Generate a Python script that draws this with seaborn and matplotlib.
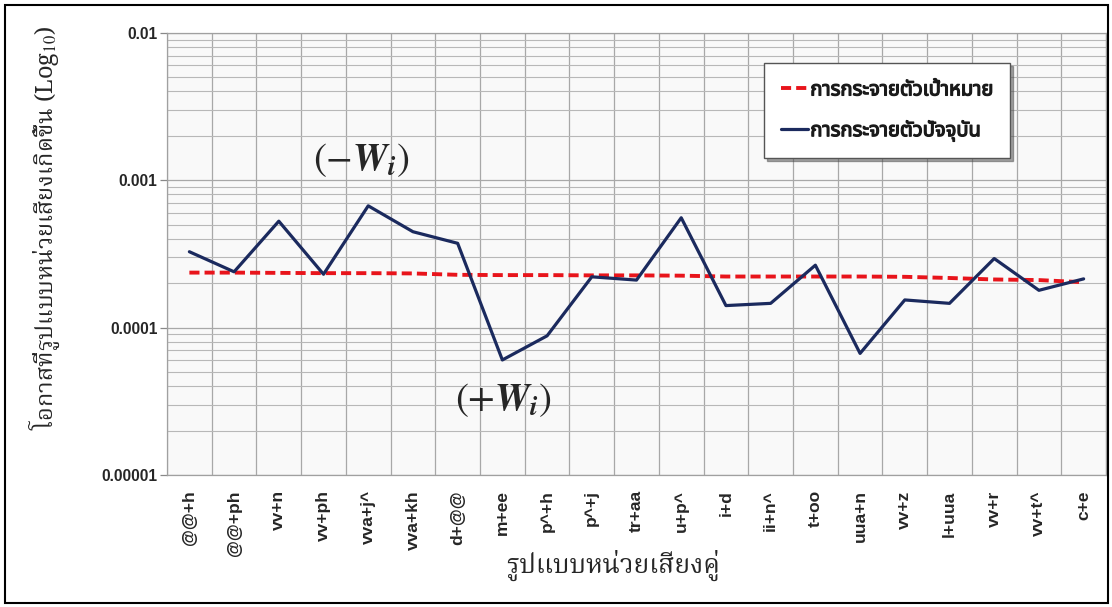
import numpy as np
import pandas as pd
import matplotlib
matplotlib.use("Agg")
import matplotlib.pyplot as plt
from matplotlib import font_manager as fm
from matplotlib.ft2font import FT2Font
from matplotlib.patches import Rectangle
from matplotlib.ticker import LogLocator, FixedLocator, NullFormatter
import matplotlib.patheffects as pe
import seaborn as sns

# ---------------- data ----------------
categories = ["@@+h", "@@+ph", "vv+n", "vv+ph", "vva+j^", "vva+kh", "d+@@", "m+ee",
              "p^+h", "p^+j", "tr+aa", "u+p^", "i+d", "ii+n^", "t+oo", "uua+n",
              "vv+z", "l+uua", "vv+r", "vv+t^", "c+e"]
target_dist = [2.36e-4, 2.36e-4, 2.35e-4, 2.34e-4, 2.34e-4, 2.33e-4, 2.28e-4, 2.27e-4,
               2.27e-4, 2.26e-4, 2.26e-4, 2.25e-4, 2.22e-4, 2.22e-4, 2.22e-4, 2.22e-4,
               2.21e-4, 2.17e-4, 2.12e-4, 2.10e-4, 2.03e-4]
current_dist = [3.27e-4, 2.39e-4, 5.27e-4, 2.30e-4, 6.70e-4, 4.47e-4, 3.73e-4, 6.03e-5,
                8.79e-5, 2.21e-4, 2.10e-4, 5.56e-4, 1.41e-4, 1.46e-4, 2.65e-4, 6.68e-5,
                1.54e-4, 1.46e-4, 2.94e-4, 1.79e-4, 2.14e-4]
series_names = ["การกระจายตัวเป้าหมาย", "การกระจายตัวปัจจุบัน"]
ytick_values = [1e-5, 1e-4, 1e-3, 1e-2]
ytick_labels = ["0.00001", "0.0001", "0.001", "0.01"]
xlabel_text = "รูปแบบหน่วยเสียงคู่"
ylabel_text = "โอกาสที่รูปแบบหน่วยเสียงเกิดขึ้น (Log$_{10}$)"
annot_minus = r"$(-\mathbfit{W}_{\mathbfit{i}})$"
annot_plus = r"$(+\mathbfit{W}_{\mathbfit{i}})$"

# ---------------- fonts ----------------
sns.set_theme(style="white")
thai_fonts = {}
for f in fm.fontManager.ttflist:
    try:
        cm = FT2Font(f.fname).get_charmap()
    except Exception:
        continue
    if 0x0E01 in cm:
        thai_fonts.setdefault(f.name, []).append(f.weight)

def pick(prefs):
    for p in prefs:
        if p in thai_fonts:
            return p
    return next(iter(thai_fonts), "DejaVu Sans")

serif_thai = pick(["Noto Serif Thai", "Norasi", "Laksaman", "TH Sarabun New", "Tlwg Typo",
                   "Noto Sans Thai Looped", "Noto Sans Thai", "Garuda", "Loma"])
sans_thai = pick(["Noto Sans Thai", "Noto Sans Thai UI", "Garuda", "Loma", "Tahoma",
                  "Tlwg Typo", "Norasi"])

plt.rcParams["font.family"] = [sans_thai, "Liberation Sans", "DejaVu Sans"]
plt.rcParams["mathtext.fontset"] = "stix"

# ---------------- figure ----------------
fig = plt.figure(figsize=(11.12, 6.07), dpi=100)
fig.patch.set_facecolor("white")
ax = fig.add_axes([0.1502, 0.2175, 0.8444, 0.7285])
ax.set_facecolor("#f9f9f9")

pos = np.arange(len(categories))
df = pd.DataFrame({"pos": pos, "target": target_dist, "current": current_dist})

sns.lineplot(data=df, x="pos", y="target", ax=ax, color="#e8141b", lw=2.8,
             label=series_names[0], zorder=3)
ax.lines[-1].set_dashes((2.6, 1.3))
sns.lineplot(data=df, x="pos", y="current", ax=ax, color="#1b2a5e", lw=2.3,
             label=series_names[1], zorder=4)

ax.set_yscale("log")
ax.set_ylim(1e-5, 1e-2)
ax.set_xlim(-0.5, len(categories) - 0.5)

# grid
ax.yaxis.set_major_locator(FixedLocator(ytick_values))
ax.set_yticklabels(ytick_labels)
ax.yaxis.set_minor_locator(LogLocator(base=10, subs=np.arange(2, 10)))
ax.yaxis.set_minor_formatter(NullFormatter())
ax.grid(which="major", axis="y", color="#a8a8a8", lw=0.9)
ax.grid(which="minor", axis="y", color="#b8b8b8", lw=0.8)
ax.set_xticks(pos)
ax.set_xticklabels(categories, rotation=90, fontweight="bold", fontsize=12.5,
                   family=["Liberation Sans", "DejaVu Sans"])
ax.xaxis.set_minor_locator(FixedLocator(np.arange(-0.5, len(categories), 1.0)))
ax.grid(which="minor", axis="x", color="#a8a8a8", lw=0.9)
ax.set_axisbelow(True)

ax.tick_params(axis="x", which="both", length=0, pad=11)
ax.tick_params(axis="y", which="major", length=5, width=0.9, color="#888888",
               left=True, pad=2)
ax.tick_params(axis="y", which="minor", length=0)
for lab in ax.get_yticklabels():
    lab.set_fontweight("bold")
    lab.set_fontsize(11.2)
    lab.set_family(["Liberation Sans", "DejaVu Sans"])

for s in ax.spines.values():
    s.set_color("#a0a0a0")
    s.set_linewidth(0.9)

ax.set_xlabel("")
ax.set_ylabel("")
fig.text(0.551, 0.068, xlabel_text, ha="center", va="center", fontsize=19,
         family=[serif_thai, "DejaVu Serif"])
fig.text(0.040, 0.625, ylabel_text, ha="center", va="center", rotation=90,
         fontsize=17, family=[serif_thai, "DejaVu Serif"])

ax.text(3.86, 1.37e-3, annot_minus, ha="center", va="center", fontsize=28)
ax.text(7.02, 3.22e-5, annot_plus, ha="center", va="center", fontsize=28)

leg = ax.legend(loc="upper right", bbox_to_anchor=(0.898, 0.931), frameon=True,
                fancybox=False, shadow=True, handlelength=1.35, handletextpad=0.1,
                labelspacing=1.0, borderpad=0.85, borderaxespad=0,
                prop={"family": [sans_thai, "DejaVu Sans"], "weight": "bold", "size": 14.5})
for t in leg.get_texts():
    t.set_path_effects([pe.withStroke(linewidth=0.9, foreground="#1a1a1a")])
    t.set_color("#1a1a1a")
leg.get_frame().set_edgecolor("#555555")
leg.get_frame().set_linewidth(1.0)
leg.get_frame().set_facecolor("white")
leg.get_frame().set_alpha(1)

fig.add_artist(Rectangle((5 / 1112, 4 / 607), 1103 / 1112, 598 / 607, transform=fig.transFigure,
                         fill=False, edgecolor="black", lw=1.5))

fig.savefig("out.png", dpi=100)
